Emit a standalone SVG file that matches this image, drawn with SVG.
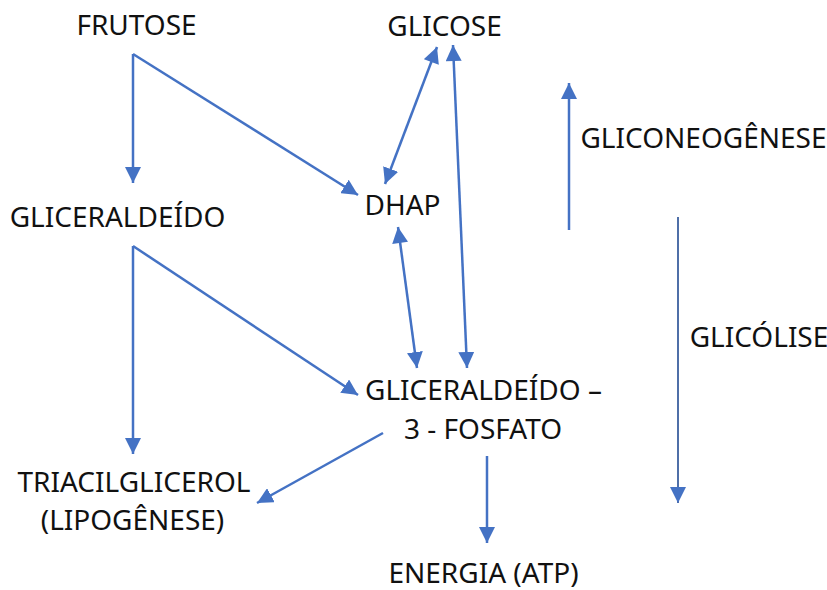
<svg xmlns="http://www.w3.org/2000/svg" width="827" height="590" viewBox="0 0 827 590">
<style>
text{font-family:"Noto Sans","Open Sans","Liberation Sans",sans-serif;font-size:28px;fill:#111;text-anchor:middle}
.c{stroke:#4472C4;stroke-width:2.5;fill:none;marker-end:url(#ah)}
.b{marker-start:url(#ahs)}
.t{stroke:#4f6fa8;stroke-width:2}
</style>
<defs>
<marker id="ah" markerUnits="userSpaceOnUse" markerWidth="17" markerHeight="16" refX="16" refY="8" orient="auto"><path d="M0,0 L16,8 L0,16 z" fill="#4472C4"/></marker>
<marker id="ahs" markerUnits="userSpaceOnUse" markerWidth="17" markerHeight="16" refX="0" refY="8" orient="auto"><path d="M16,0 L0,8 L16,16 z" fill="#4472C4"/></marker>
</defs>
<rect width="827" height="590" fill="#fff"/>
<g id="connectors">
<path class="c" d="M133,54 L133,183"/>
<path class="c" d="M133,54 L358,195"/>
<path class="c" d="M133,246 L133,454"/>
<path class="c" d="M133,246 L358,395"/>
<path class="c b" d="M437,47 L385,184"/>
<path class="c b" d="M453,45 L467,368"/>
<path class="c b" d="M398,227 L417,368"/>
<path class="c" d="M383,433 L257,503"/>
<path class="c" d="M487,456 L487,543"/>
<path class="c" d="M569,230 L569,83"/>
<path class="c t" d="M678,217 L678,503"/>
</g>
<g id="frutose"><text x="136.5" y="35">FRUTOSE</text></g>
<g id="glicose"><text x="444.5" y="36">GLICOSE</text></g>
<g id="gliceraldeido"><text x="117.5" y="227">GLICERALDEÍDO</text></g>
<g id="dhap"><text x="402.5" y="215">DHAP</text></g>
<g id="gliconeogenese"><text x="703.5" y="148">GLICONEOGÊNESE</text></g>
<g id="glicolise"><text x="759" y="347">GLICÓLISE</text></g>
<g id="g3p"><text x="483.5" y="400">GLICERALDEÍDO –</text><text x="483" y="439">3 - FOSFATO</text></g>
<g id="triacil"><text x="134" y="492">TRIACILGLICEROL</text><text x="132.5" y="530">(LIPOGÊNESE)</text></g>
<g id="energia"><text x="483.5" y="583">ENERGIA (ATP)</text></g>
</svg>
